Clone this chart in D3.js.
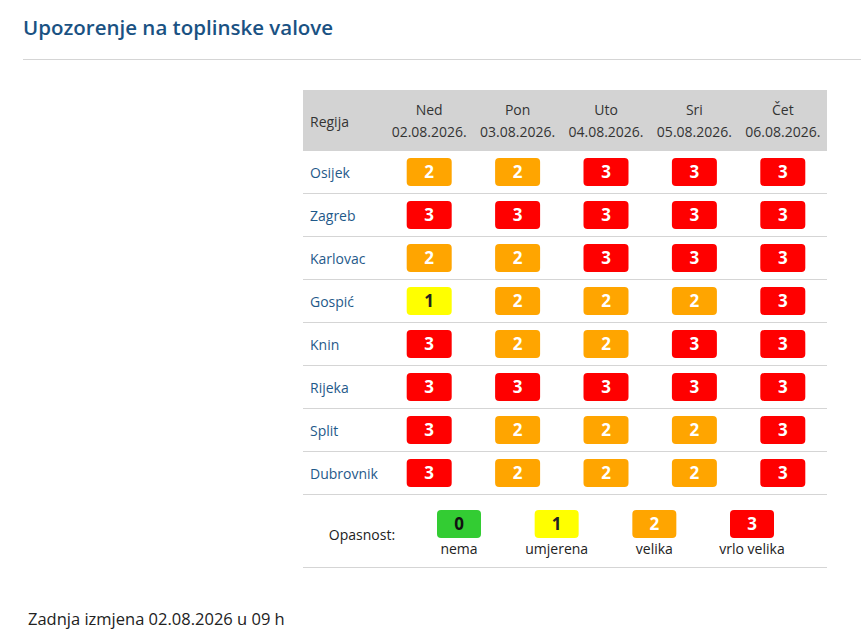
<!DOCTYPE html>
<html>
<head>
<meta charset="utf-8">
<script src="https://cdn.jsdelivr.net/npm/d3@7"></script>
<style>
  body { margin: 0; background: #fff; }
  svg { display: block; font-family: "Open Sans", sans-serif; }
</style>
</head>
<body>
<svg id="chart"></svg>
<script>
// regije i razine opasnosti po danima
var regions = ["Osijek", "Zagreb", "Karlovac", "Gospić", "Knin", "Rijeka", "Split", "Dubrovnik"];
var dayNames = ["Ned", "Pon", "Uto", "Sri", "Čet"];
var dates = ["02.08.2026.", "03.08.2026.", "04.08.2026.", "05.08.2026.", "06.08.2026."];
var levels = [
  [2, 2, 3, 3, 3],
  [3, 3, 3, 3, 3],
  [2, 2, 3, 3, 3],
  [1, 2, 2, 2, 3],
  [3, 2, 2, 3, 3],
  [3, 3, 3, 3, 3],
  [3, 2, 2, 2, 3],
  [3, 2, 2, 2, 3]
];
var legendLevels = [0, 1, 2, 3];
var legendLabels = ["nema", "umjerena", "velika", "vrlo velika"];
var levelColors = ["#33cc33", "#ffff00", "#ffa500", "#ff0000"];
var levelText = ["#111", "#222", "#fff", "#fff"];

var width = 861, height = 637;
var svg = d3.select("#chart").attr("width", width).attr("height", height);

// naslov
svg.append("text")
   .attr("x", 23).attr("y", 35)
   .attr("fill", "#1a5283")
   .style("font-size", "20.5px").style("font-weight", 600)
   .text("Upozorenje na toplinske valove");

svg.append("line")
   .attr("x1", 23).attr("x2", width).attr("y1", 59.5).attr("y2", 59.5)
   .attr("stroke", "#d5d5d5");

var tableLeft = 303, tableRight = 827, labelCol = 82;
var headerTop = 90, headerH = 61, rowH = 43;

var x = d3.scaleBand().domain(d3.range(dayNames.length))
          .range([tableLeft + labelCol, tableRight]);
var y = d3.scaleBand().domain(regions)
          .range([headerTop + headerH, headerTop + headerH + rowH * regions.length]);
var color = d3.scaleOrdinal().domain(legendLevels).range(levelColors);
var textColor = d3.scaleOrdinal().domain(legendLevels).range(levelText);

// zaglavlje
svg.append("rect")
   .attr("x", tableLeft).attr("y", headerTop)
   .attr("width", tableRight - tableLeft).attr("height", headerH)
   .attr("fill", "#d3d3d3");

svg.append("text")
   .attr("x", tableLeft + 7).attr("y", headerTop + 37)
   .attr("fill", "#333").style("font-size", "14px")
   .text("Regija");

var head = svg.selectAll(".head").data(dayNames).enter().append("g")
   .attr("transform", function(d, i) { return "translate(" + (x(i) + x.bandwidth() / 2) + "," + headerTop + ")"; });
head.append("text").attr("y", 25).attr("text-anchor", "middle")
   .attr("fill", "#333").style("font-size", "14px")
   .text(function(d) { return d; });
head.append("text").attr("y", 47).attr("text-anchor", "middle")
   .attr("fill", "#333").style("font-size", "14px")
   .text(function(d, i) { return dates[i]; });

// redovi
var rows = svg.selectAll(".row").data(regions).enter().append("g")
   .attr("transform", function(d) { return "translate(0," + y(d) + ")"; });

rows.append("line")
   .attr("x1", tableLeft).attr("x2", tableRight)
   .attr("y1", rowH - 0.5).attr("y2", rowH - 0.5)
   .attr("stroke", "#d5d5d5");

rows.append("text")
   .attr("x", tableLeft + 7).attr("y", rowH / 2 + 5)
   .attr("fill", "#1f5a8a").style("font-size", "14px")
   .text(function(d) { return d; });

var bw = 45, bh = 28;
var cells = rows.selectAll(".cell").data(function(d, i) { return levels[i]; }).enter().append("g")
   .attr("transform", function(d, i) { return "translate(" + (x(i) + x.bandwidth() / 2) + "," + (rowH / 2 - 0.5) + ")"; });
cells.append("rect")
   .attr("x", -bw / 2).attr("y", -bh / 2).attr("width", bw).attr("height", bh)
   .attr("rx", 4)
   .attr("fill", function(d) { return color(d); });
cells.append("text")
   .attr("text-anchor", "middle").attr("y", 6)
   .attr("fill", function(d) { return textColor(d); })
   .style("font-size", "17px").style("font-weight", 700)
   .text(function(d) { return d; });

// legenda
var legTop = y.range()[1];
var legH = 72;
svg.append("line")
   .attr("x1", tableLeft).attr("x2", tableRight)
   .attr("y1", legTop + legH + 0.5).attr("y2", legTop + legH + 0.5)
   .attr("stroke", "#d5d5d5");

svg.append("text")
   .attr("x", 362).attr("y", legTop + 45)
   .attr("text-anchor", "middle")
   .attr("fill", "#222").style("font-size", "14px")
   .text("Opasnost:");

var lx = d3.scalePoint().domain(legendLevels).range([459, 752]);
var leg = svg.selectAll(".leg").data(legendLevels).enter().append("g")
   .attr("transform", function(d) { return "translate(" + lx(d) + "," + legTop + ")"; });
leg.append("rect")
   .attr("x", -22).attr("y", 15).attr("width", 44).attr("height", 28).attr("rx", 4)
   .attr("fill", function(d) { return color(d); });
leg.append("text")
   .attr("text-anchor", "middle").attr("y", 35)
   .attr("fill", function(d) { return textColor(d); })
   .style("font-size", "17px").style("font-weight", 700)
   .text(function(d) { return d; });
leg.append("text")
   .attr("text-anchor", "middle").attr("y", 59)
   .attr("fill", "#222").style("font-size", "14px")
   .text(function(d, i) { return legendLabels[i]; });

// podnožje
svg.append("text")
   .attr("x", 28).attr("y", 625)
   .attr("fill", "#222").style("font-size", "16.5px")
   .text("Zadnja izmjena 02.08.2026 u 09 h");
</script>
</body>
</html>
